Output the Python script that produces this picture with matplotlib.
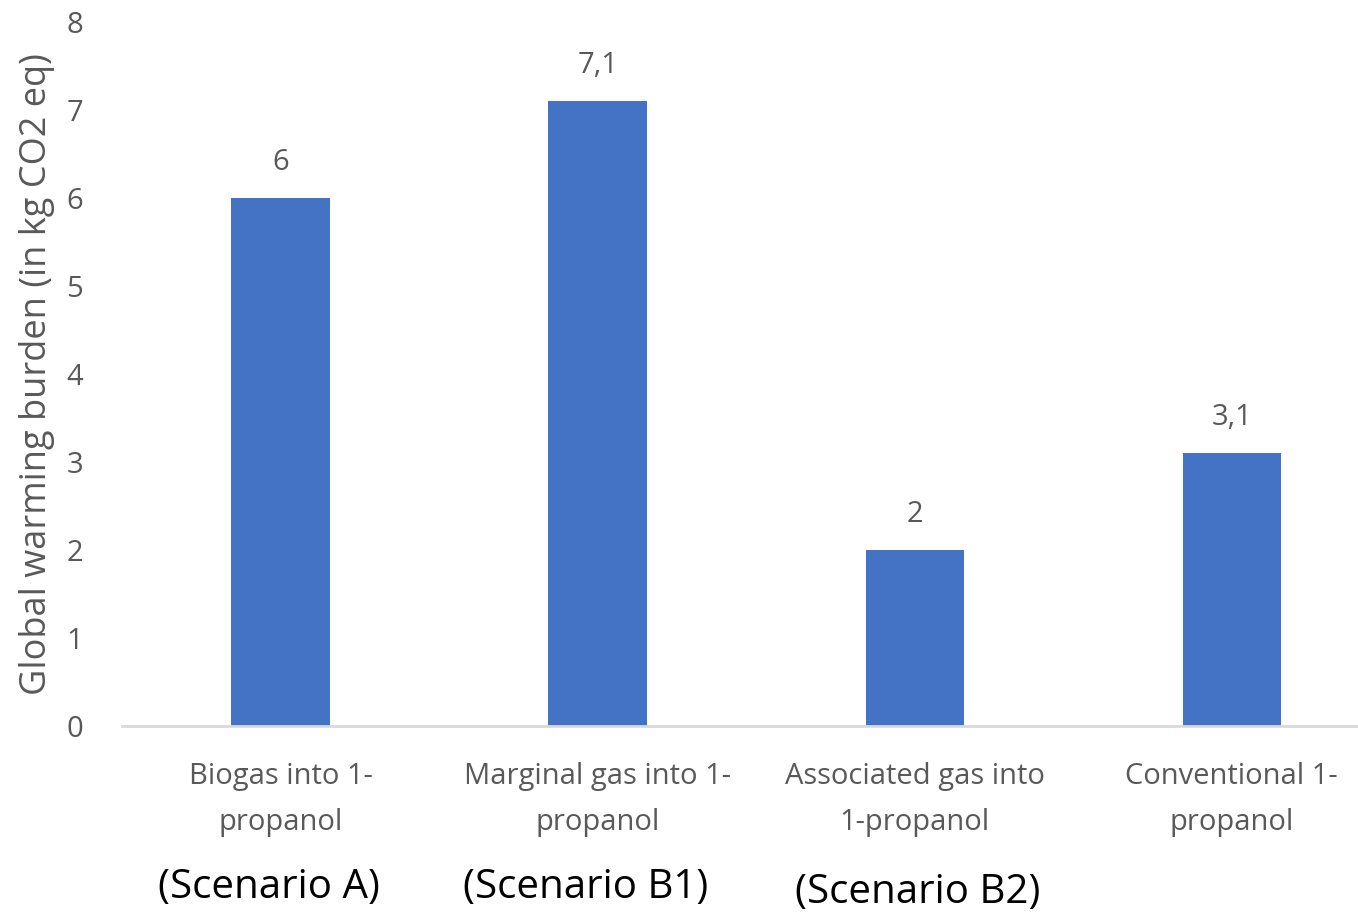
import matplotlib.pyplot as plt

categories = ["Biogas into 1-\npropanol", "Marginal gas into 1-\npropanol",
              "Associated gas into\n1-propanol", "Conventional 1-\npropanol"]
values = [6, 7.1, 2, 3.1]
value_labels = ["6", "7,1", "2", "3,1"]
scenarios = ["(Scenario A)", "(Scenario B1)", "(Scenario B2)"]

plt.rcParams['font.family'] = ['Open Sans', 'DejaVu Sans']
grey = "#595959"

fig = plt.figure(figsize=(13.58, 9.16), dpi=100)
ax = fig.add_axes([0.0898, 0.2074, 0.934, 0.7686])

x = range(len(categories))
bars = ax.bar(x, values, width=0.31, color="#4472C4")
for b, lab in zip(bars, value_labels):
    ax.annotate(lab, (b.get_x() + b.get_width() / 2, b.get_height()),
                xytext=(0, 15), textcoords="offset points",
                ha="center", va="bottom", fontsize=21, color=grey)

ax.set_xlim(-0.5, 3.5)
ax.set_ylim(0, 8)
ax.set_yticks(range(0, 9))
ax.set_xticks(list(x))
ax.set_xticklabels(categories, fontsize=21, color=grey, linespacing=1.75)
ax.tick_params(axis="y", labelsize=21, labelcolor=grey, length=0, pad=28)
ax.tick_params(axis="x", length=0, pad=26)
for s in ["top", "right", "left"]:
    ax.spines[s].set_visible(False)
ax.spines["bottom"].set_color("#D9D9D9")
ax.spines["bottom"].set_linewidth(2)
ax.set_ylabel("Global warming burden (in kg CO2 eq)", fontsize=26, color=grey, labelpad=8)

# scenario notes under the first three categories
tr = ax.get_xaxis_transform()
offsets = [-0.038, -0.038, 0.01]
ypos = [-0.230, -0.230, -0.237]
for i, sc in enumerate(scenarios):
    ax.text(i + offsets[i], ypos[i], sc, transform=tr, ha="center", va="center",
            fontsize=29, color="black", clip_on=False)

fig.savefig("out.png", dpi=100)
